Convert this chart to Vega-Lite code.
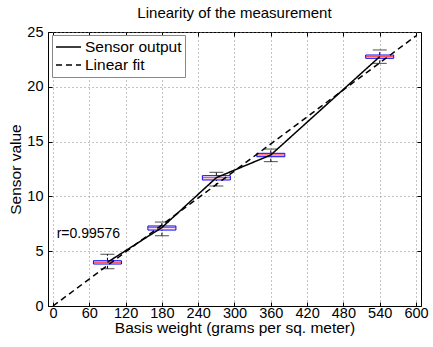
{
  "$schema": "https://vega.github.io/schema/vega-lite/v6.json",
  "width": 373,
  "height": 274,
  "autosize": "none",
  "padding": {"left": 48, "top": 32, "right": 12, "bottom": 41},
  "background": "white",
  "title": {"text": "Linearity of the measurement", "fontSize": 15, "font": "Liberation Sans", "fontWeight": "normal", "color": "black", "offset": 3},
  "config": {
    "font": "Liberation Sans",
    "view": {"stroke": "black", "strokeWidth": 1},
    "axis": {
      "labelFont": "Liberation Sans", "labelFontSize": 14.5, "labelColor": "black", "labelFlush": false, "labelOverlap": false,
      "titleFont": "Liberation Sans", "titleFontSize": 15.5, "titleFontWeight": "normal", "titleColor": "black",
      "domainColor": "black", "tickColor": "black", "tickSize": -4,
      "gridColor": "#888", "gridDash": [1, 3], "gridOpacity": 1
    },
    "axisX": {"labelFlush": false, "labelAlign": "center"},
    "axisQuantitative": {"labelFlush": false},
    "legend": {
      "labelFont": "Liberation Sans", "labelFontSize": 15.5, "labelColor": "black"
    }
  },
  "datasets": {
    "boxes": [
      {"x": 90, "low": 3.40, "q1": 3.83, "med": 3.99, "q3": 4.13, "high": 4.72},
      {"x": 180, "low": 6.41, "q1": 6.93, "med": 7.16, "q3": 7.30, "high": 7.66},
      {"x": 270, "low": 10.95, "q1": 11.50, "med": 11.71, "q3": 11.89, "high": 12.20},
      {"x": 360, "low": 13.17, "q1": 13.62, "med": 13.78, "q3": 13.93, "high": 14.32},
      {"x": 540, "low": 22.14, "q1": 22.60, "med": 22.75, "q3": 22.90, "high": 23.36}
    ],
    "lines": [
      {"series": "Sensor output", "x": 90, "y": 3.99},
      {"series": "Sensor output", "x": 180, "y": 7.16},
      {"series": "Sensor output", "x": 270, "y": 11.71},
      {"series": "Sensor output", "x": 360, "y": 13.78},
      {"series": "Sensor output", "x": 540, "y": 22.75},
      {"series": "Linear fit", "x": 0, "y": 0},
      {"series": "Linear fit", "x": 600, "y": 24.65}
    ],
    "notes": [
      {"x": 6, "y": 6.6, "label": "r=0.99576"}
    ]
  },
  "resolve": {"axis": {"x": "independent", "y": "independent"}},
  "layer": [
    {
      "data": {"name": "boxes"},
      "mark": {"type": "rule", "color": "black", "strokeDash": [3, 2], "strokeWidth": 1},
      "encoding": {
        "x": {"field": "x", "type": "quantitative", "scale": {"domain": [0, 600], "nice": false, "zero": false},
              "axis": {"values": [0, 60, 120, 180, 240, 300, 360, 420, 480, 540, 600], "title": "Basis weight (grams per sq. meter)", "grid": true, "labelPadding": 4, "titlePadding": 1, "labelFlush": false}},
        "y": {"field": "low", "type": "quantitative", "scale": {"domain": [0, 25], "nice": false, "zero": false},
              "axis": {"values": [0, 5, 10, 15, 20, 25], "title": "Sensor value", "grid": true, "labelPadding": 9, "titlePadding": 3, "labelFlush": false}},
        "y2": {"field": "q1"}
      }
    },
    {
      "data": {"name": "boxes"},
      "mark": {"type": "rule", "color": "black", "strokeDash": [3, 2], "strokeWidth": 1},
      "encoding": {
        "x": {"field": "x", "type": "quantitative", "axis": {"orient": "top", "labels": false, "title": null, "grid": false, "domain": false, "values": [0, 60, 120, 180, 240, 300, 360, 420, 480, 540, 600]}},
        "y": {"field": "q3", "type": "quantitative", "axis": {"orient": "right", "labels": false, "title": null, "grid": false, "domain": false, "values": [0, 5, 10, 15, 20, 25]}},
        "y2": {"field": "high"}
      }
    },
    {
      "data": {"name": "boxes"},
      "mark": {"type": "tick", "orient": "horizontal", "size": 14, "thickness": 1, "color": "black"},
      "encoding": {
        "x": {"field": "x", "type": "quantitative", "axis": null},
        "y": {"field": "low", "type": "quantitative", "axis": null}
      }
    },
    {
      "data": {"name": "boxes"},
      "mark": {"type": "tick", "orient": "horizontal", "size": 14, "thickness": 1, "color": "black"},
      "encoding": {
        "x": {"field": "x", "type": "quantitative", "axis": null},
        "y": {"field": "high", "type": "quantitative", "axis": null}
      }
    },
    {
      "data": {"name": "boxes"},
      "mark": {"type": "bar", "width": 28, "fill": "#fbe6ee", "fillOpacity": 0.5, "stroke": "#0000ff", "strokeWidth": 1},
      "encoding": {
        "x": {"field": "x", "type": "quantitative", "axis": null},
        "y": {"field": "q1", "type": "quantitative", "axis": null},
        "y2": {"field": "q3"}
      }
    },
    {
      "data": {"name": "boxes"},
      "mark": {"type": "tick", "orient": "horizontal", "size": 28, "thickness": 1.2, "color": "#ff0000"},
      "encoding": {
        "x": {"field": "x", "type": "quantitative", "axis": null},
        "y": {"field": "med", "type": "quantitative", "axis": null}
      }
    },
    {
      "data": {"name": "lines"},
      "mark": {"type": "line", "color": "black", "strokeWidth": 1.5},
      "encoding": {
        "x": {"field": "x", "type": "quantitative", "axis": null},
        "y": {"field": "y", "type": "quantitative", "axis": null},
        "strokeDash": {
          "field": "series", "type": "nominal",
          "scale": {"domain": ["Sensor output", "Linear fit"], "range": [[1, 0], [6, 4]]},
          "legend": {
            "title": null, "orient": "none", "legendX": 4, "legendY": 3,
            "fillColor": "white", "strokeColor": "#888", "padding": 3,
            "symbolType": "stroke", "symbolSize": 625, "symbolStrokeWidth": 1.5, "symbolStrokeColor": "black",
            "labelOffset": 3, "rowPadding": 0, "clipHeight": 18
          }
        }
      }
    },
    {
      "data": {"name": "notes"},
      "mark": {"type": "text", "align": "left", "baseline": "middle", "fontSize": 14, "font": "Liberation Sans", "color": "black"},
      "encoding": {
        "x": {"field": "x", "type": "quantitative", "axis": null},
        "y": {"field": "y", "type": "quantitative", "axis": null},
        "text": {"field": "label"}
      }
    }
  ]
}
